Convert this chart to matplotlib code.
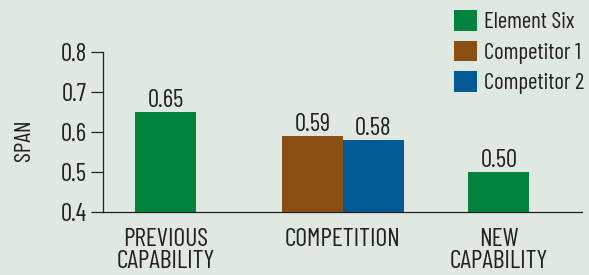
import matplotlib
matplotlib.use('Agg')
import matplotlib.pyplot as plt
from matplotlib.patches import Patch

# data
categories = ['PREVIOUS\nCAPABILITY', 'COMPETITION', 'NEW\nCAPABILITY']
series = ['Element Six', 'Competitor 1', 'Competitor 2']
element_six = [0.65, 0.50]      # previous capability, new capability
competitor_1 = [0.59]           # competition
competitor_2 = [0.58]           # competition
y_ticks = [0.4, 0.5, 0.6, 0.7, 0.8]

colors = {'Element Six': '#00843d', 'Competitor 1': '#8a4f12', 'Competitor 2': '#005a94'}
bg = '#dfe9e1'
txt = '#231f20'

plt.rcParams['font.family'] = ['Barlow Condensed', 'DejaVu Sans']

fig = plt.figure(figsize=(5.89, 2.75), dpi=100, facecolor=bg)
ax = fig.add_axes([103 / 589, 1 - 212.3 / 275, 479 / 589, 160 / 275])
ax.set_facecolor(bg)

# bar positions in units of one bar width
x_cat = [1.03, 3.95, 6.52]
w = 1.0

b1 = ax.bar([x_cat[0], x_cat[2]], element_six, w, color=colors['Element Six'])
b2 = ax.bar([x_cat[1] - w / 2], competitor_1, w, color=colors['Competitor 1'])
b3 = ax.bar([x_cat[1] + w / 2], competitor_2, w, color=colors['Competitor 2'])

for bars in (b1, b2, b3):
    for b in bars:
        ax.annotate('%.2f' % b.get_height(), (b.get_x() + b.get_width() / 2, b.get_height()),
                    xytext=(0, 0), textcoords='offset points', ha='center', va='bottom',
                    fontsize=18, color=txt)

ax.set_xlim(0, 7.89)
ax.set_ylim(0.4, 0.8)
ax.set_yticks(y_ticks)
ax.set_yticklabels(['%.1f' % t for t in y_ticks], fontsize=18, color=txt)
ax.set_xticks(x_cat)
ax.set_xticklabels(categories, fontsize=18.5, color=txt, linespacing=0.98)
ax.tick_params(axis='x', length=0, pad=11)
ax.tick_params(axis='y', length=8.6, width=0.9, pad=3, color=txt)

for s in ['top', 'right']:
    ax.spines[s].set_visible(False)
for s in ['left', 'bottom']:
    ax.spines[s].set_linewidth(0.9)
    ax.spines[s].set_color(txt)

ax.set_ylabel('SPAN', fontsize=17, color=txt)
ax.yaxis.set_label_coords(-0.143, 0.45)

handles = [Patch(facecolor=colors[s]) for s in series]
fig.legend(handles, series, loc='upper left', bbox_to_anchor=(454 / 589, 1 - 10 / 275),
           frameon=False, fontsize=16.5, handlelength=1.0, handleheight=1.0,
           handletextpad=0.3, labelspacing=0.33, borderpad=0, borderaxespad=0,
           labelcolor=txt)

fig.savefig('out.png', dpi=100, facecolor=bg)
